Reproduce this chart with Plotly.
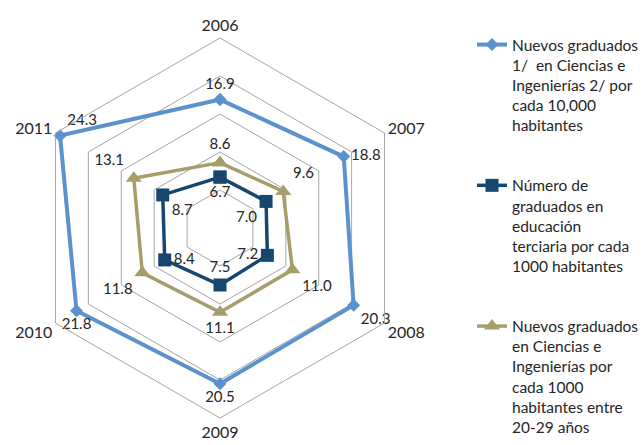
import plotly.graph_objects as go

years = ["2006", "2007", "2008", "2009", "2010", "2011"]
s1_name = "Nuevos graduados<br>1/  en Ciencias e<br>Ingenierías 2/ por<br>cada 10,000<br>habitantes"
s2_name = "Número de<br>graduados en<br>educación<br>terciaria por cada<br>1000 habitantes"
s3_name = "Nuevos graduados<br>en Ciencias e<br>Ingenierías por<br>cada 1000<br>habitantes entre<br>20-29 años"
s1 = [16.9, 18.8, 20.3, 20.5, 21.8, 24.3]
s2 = [6.7, 7.0, 7.2, 7.5, 8.4, 8.7]
s3 = [8.6, 9.6, 11.0, 11.1, 11.8, 13.1]

pos1 = ["top center", "middle right", "bottom right", "bottom center", "bottom center", "top right"]
pos2 = ["bottom center", "bottom left", "middle left", "top center", "middle right", "bottom right"]
pos3 = ["top center", "top right", "bottom right", "bottom center", "bottom left", "top left"]

FONT = "Lato"
TXT = "#262626"

def closed(v):
    return list(v) + [v[0]]

fig = go.Figure()
series = [
    (s1, s1_name, "#5B92CD", "diamond", 10, 4, pos1),
    (s2, s2_name, "#17476F", "square", 13, 3.5, pos2),
    (s3, s3_name, "#A59E6B", "triangle-up", 14, 3.5, pos3),
]
for i, (vals, name, col, sym, msz, lw, pos) in enumerate(series):
    fig.add_trace(go.Scatterpolar(
        r=closed(vals), theta=closed(years), name=name,
        mode="lines+markers+text",
        text=[f"{v:.1f}" for v in vals] + [""],
        textposition=pos + ["top center"],
        textfont=dict(family=FONT, size=15, color=TXT),
        line=dict(color=col, width=lw),
        marker=dict(symbol=sym, size=msz, color=col),
        legendgroup=str(i), hoverinfo="skip",
    ))

fig.update_layout(
    width=644, height=445,
    margin=dict(l=0, r=0, t=0, b=0, autoexpand=False),
    paper_bgcolor="white", plot_bgcolor="white",
    font=dict(family=FONT, size=15, color=TXT),
    polar=dict(
        domain=dict(x=[30/644, 410/644], y=[27/445, 407/445]),
        bgcolor="white",
        gridshape="linear",
        angularaxis=dict(type="category", direction="clockwise", rotation=90,
                         showgrid=False, showline=True, linecolor="#A6A6A6", linewidth=1,
                         ticks="", tickfont=dict(family=FONT, size=16, color=TXT)),
        radialaxis=dict(range=[0, 25], dtick=5, showticklabels=False, showline=False,
                        ticks="", gridcolor="#A6A6A6", gridwidth=1),
    ),
    legend=dict(x=472/644, y=1-28/445, xanchor="left", yanchor="top",
                valign="top", tracegroupgap=37,
                font=dict(family=FONT, size=15.5, color=TXT)),
)

fig.write_html("out.html", config={"displayModeBar": False},
               post_script="document.body.style.margin='0px';")
